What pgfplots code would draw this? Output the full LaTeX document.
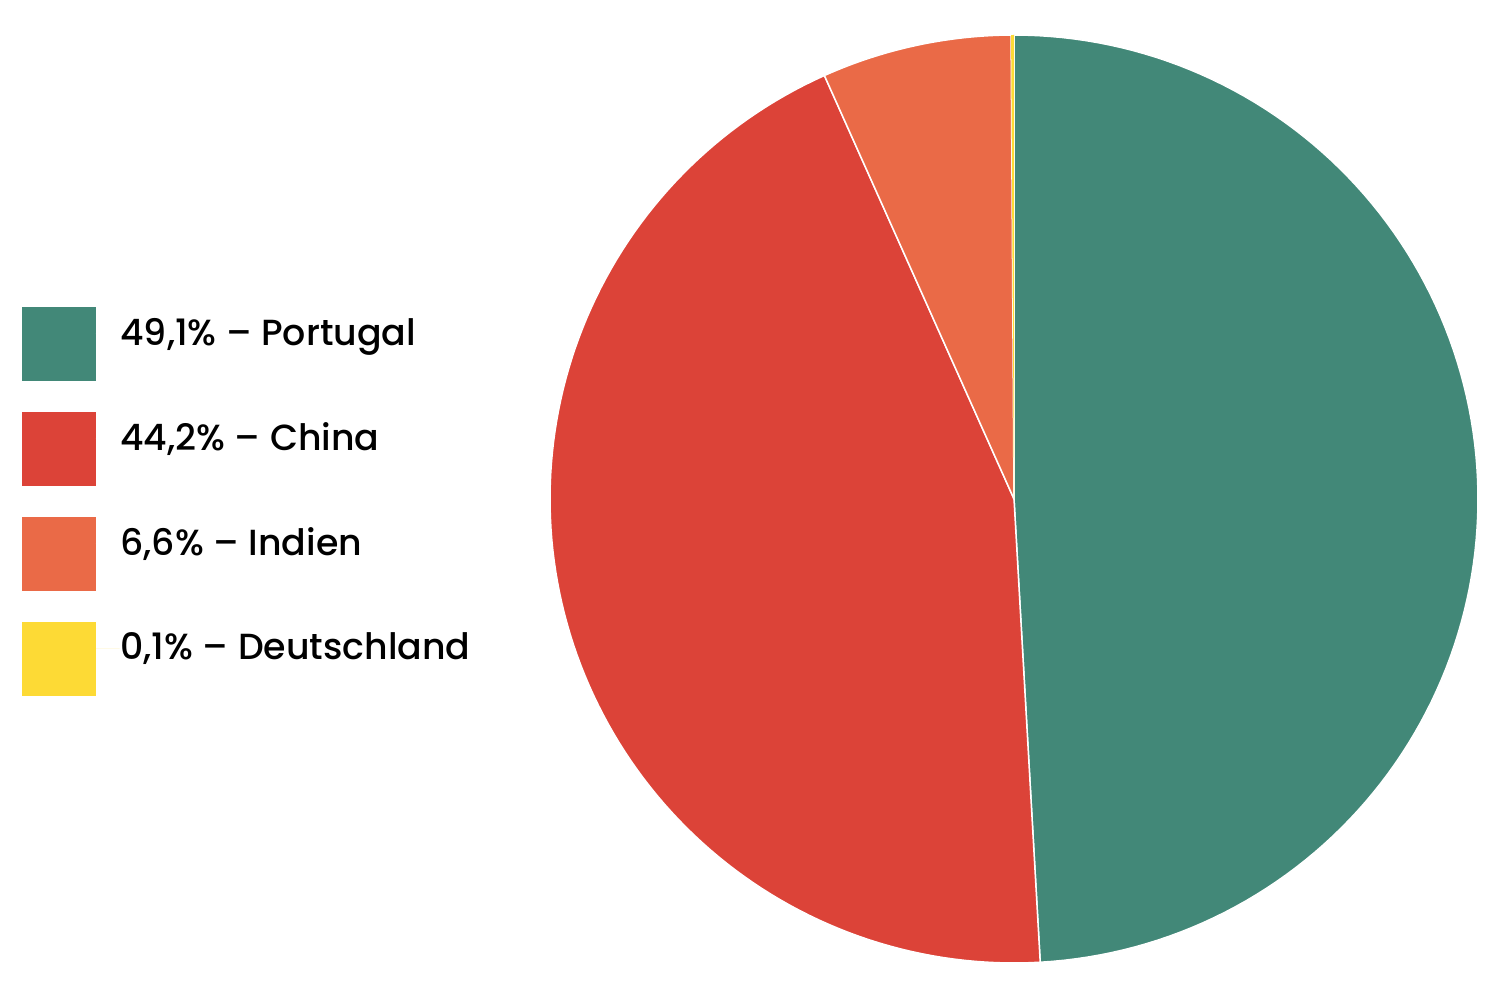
\documentclass[border=0pt]{standalone}
\usepackage{fontspec}
\setmainfont{Poppins}[UprightFont={* Medium}]
\usepackage{pgfplots}
\pgfplotsset{compat=1.18}

\definecolor{cPortugal}{HTML}{428878}
\definecolor{cChina}{HTML}{DC4338}
\definecolor{cIndien}{HTML}{EA6A47}
\definecolor{cDeutsch}{HTML}{FDDA35}

% pie: centre (1014,501), radius 464 in image pixels; shares in percent
% start at 90 deg, clockwise: Portugal 49.1, China 44.2, Indien 6.6, Deutschland 0.1
\begin{document}
\begin{tikzpicture}
\begin{axis}[
  width=450pt, height=300pt,
  scale only axis,
  xmin=0, xmax=1500, ymin=0, ymax=1000,
  hide axis,
  samples=120,
  legend style={
    at={(0.014,0.694)}, anchor=north west,
    draw=none, fill=none, inner sep=0pt,
    font=\fontsize{10.9}{13}\selectfont,
    row sep=9.3pt,
    nodes={inner sep=0pt, anchor=west},
  },
  legend cell align=left,
  legend image code/.code={
    \fill[#1, draw=none] (0pt,-14pt) rectangle (22.2pt,8.2pt);
    \path (22.2pt,0) -- (29.4pt,0);
  },
]
  % angle from, angle to
  \addplot[draw=white, line width=0.45pt, fill=cPortugal, domain=90:-86.76]
    ({1014+464*cos(x)}, {501+464*sin(x)}) -- (axis cs:1014,501) -- cycle;
  \addlegendentry{49,1\% – Portugal}
  \addplot[draw=white, line width=0.45pt, fill=cChina, domain=-86.76:-245.88]
    ({1014+464*cos(x)}, {501+464*sin(x)}) -- (axis cs:1014,501) -- cycle;
  \addlegendentry{44,2\% – China}
  \addplot[draw=white, line width=0.45pt, fill=cIndien, domain=-245.88:-269.64, samples=30]
    ({1014+464*cos(x)}, {501+464*sin(x)}) -- (axis cs:1014,501) -- cycle;
  \addlegendentry{6,6\% – Indien}
  \addplot[draw=none, fill=cDeutsch, domain=-269.64:-270, samples=5]
    ({1014+464*cos(x)}, {501+464*sin(x)}) -- (axis cs:1014,501) -- cycle;
  \addlegendentry{0,1\% – Deutschland}
\end{axis}
\path (current axis.south west) rectangle (current axis.north east);
\end{tikzpicture}
\end{document}
